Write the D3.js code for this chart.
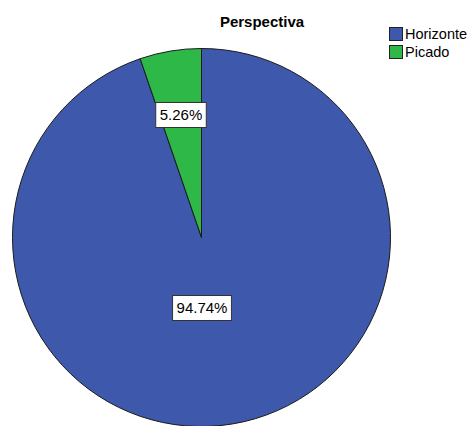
<!DOCTYPE html>
<html><head><meta charset="utf-8">
<script src="https://cdn.jsdelivr.net/npm/d3@7"></script>
<style>body{margin:0;background:#fff}svg{display:block}</style>
</head><body>
<script>
const categories = ["Horizonte", "Picado"];
const values = [94.74, 5.26];
const colors = ["#3e58ac", "#2eb848"];
const labels = ["94.74%", "5.26%"];
const title = "Perspectiva";

const W = 470, H = 426;
const svg = d3.select("body").append("svg").attr("width", W).attr("height", H);
const font = "Liberation Sans, Arial, sans-serif";

const cx = 201.5, cy = 237.5, r = 189;
const pie = d3.pie().sort(null).value(d => d.v)
  .startAngle(0).endAngle(2 * Math.PI);
const data = categories.map((c, i) => ({c, v: values[i], col: colors[i], lab: labels[i]}));
const arcs = pie(data);
const arc = d3.arc().innerRadius(0).outerRadius(r);

const g = svg.append("g").attr("transform", `translate(${cx},${cy})`);
g.selectAll("path").data(arcs).enter().append("path")
  .attr("d", arc).attr("fill", d => d.data.col)
  .attr("stroke", "#1a1a1a").attr("stroke-width", 1);

// labels
const labelPos = [[202 - cx, 308 - cy], [181 - cx, 115 - cy]];
arcs.forEach((a, i) => {
  const [lx, ly] = labelPos[i];
  const lg = g.append("g").attr("transform", `translate(${lx},${ly})`);
  const t = lg.append("text").attr("text-anchor", "middle").attr("dy", "0.36em")
    .attr("font-family", font).attr("font-size", 15).attr("fill", "#000").text(a.data.lab);
  const bb = t.node().getBBox();
  lg.insert("rect", "text").attr("x", bb.x - 4).attr("y", -12.5).attr("width", bb.width + 8).attr("height", 25)
    .attr("fill", "#fff").attr("stroke", "#333").attr("stroke-width", 1);
});

svg.append("text").attr("x", 262).attr("y", 27).attr("text-anchor", "middle")
  .attr("font-family", font).attr("font-weight", "bold").attr("font-size", 15).text(title);

const leg = svg.append("g");
categories.forEach((c, i) => {
  const y = 27 + i * 18;
  leg.append("rect").attr("x", 389.5).attr("y", y + 0.5).attr("width", 13).attr("height", 13)
    .attr("fill", colors[i]).attr("stroke", "#222").attr("stroke-width", 1);
  leg.append("text").attr("x", 405).attr("y", y + 12).attr("font-family", font)
    .attr("font-size", 14.5).attr("fill", "#000").text(c);
});
</script>
</body></html>
